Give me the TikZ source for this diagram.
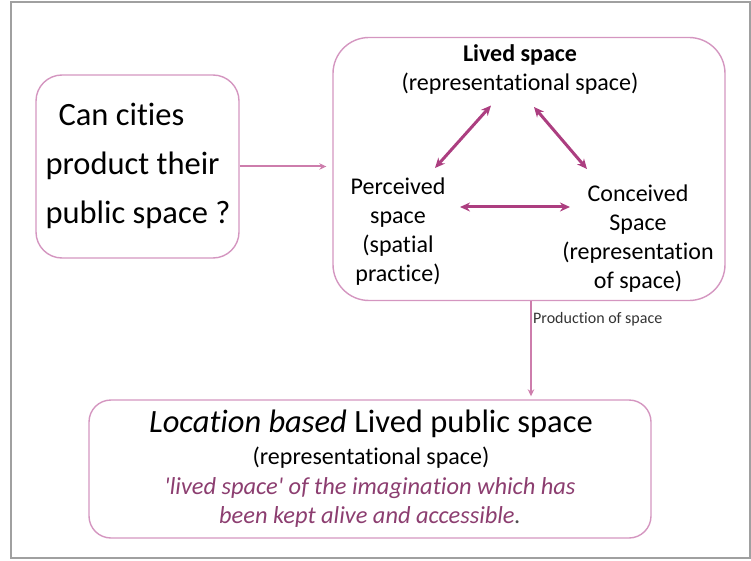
\documentclass[tikz,border=0pt]{standalone}
\usepackage{fontspec}
\setmainfont{Carlito}[Ligatures={TeXOff,CommonOff}]
\usetikzlibrary{arrows.meta}
\definecolor{boxline}{RGB}{212,150,192}
\definecolor{thinarrow}{RGB}{205,125,172}
\definecolor{triarrow}{RGB}{172,62,128}
\definecolor{quotetext}{RGB}{140,62,112}
\definecolor{framegray}{RGB}{160,160,160}
\begin{document}
\begin{tikzpicture}[x=1pt,y=-1pt,
  box/.style={draw=boxline, line width=1.4pt, rounded corners=#1, inner sep=0pt},
  box/.default=24pt,
  thin/.style={draw=thinarrow, line width=2pt, -{Stealth[length=7pt,width=6.5pt]}},
  tri/.style={draw=triarrow, line width=3pt, {Stealth[length=10pt,width=9pt]}-{Stealth[length=10pt,width=9pt]}},
  txt/.style={align=center, inner sep=0pt, font=\fontsize{24}{29}\selectfont}]
\useasboundingbox (0,0) rectangle (751,561);
% outer frame
\draw[framegray, line width=1.4pt] (11,2) rectangle (750,558);

% question box
\node[box=26pt, minimum width=203pt, minimum height=183pt] (q) at (137.5,166.5) {};
\node[align=left, inner sep=0pt, font=\fontsize{32.5}{49}\selectfont] (qt) at (138,166)
  {\hspace*{13pt}Can cities\\product their\\public space ?};

% triad box
\node[box=36pt, minimum width=392pt, minimum height=263pt] (triad) at (529,169) {};
\node[txt] (lived) at (520,69.5) {\textbf{Lived space}\\(representational space)};
\node[txt] (perc) at (398,231.5) {Perceived\\space\\(spatial\\practice)};
\node[txt] (conc) at (638,239) {Conceived\\Space\\(representation\\of space)};

% result box
\node[box=22pt, minimum width=562pt, minimum height=138pt] (res) at (370,469) {};
\node[inner sep=0pt, font=\fontsize{32.5}{38}\selectfont] (loc) at (371,424)
  {\textit{Location based} Lived public space};
\node[txt] (rep) at (371,458) {(representational space)};
\node[txt, font=\fontsize{24.4}{29}\selectfont\itshape, text=quotetext] (quote) at (370,502.5)
  {'lived space' of the imagination which has\\been kept alive and accessible\textcolor{black!70}{.}};

% arrow ends of the triad
\coordinate (lA) at (491,105.5);
\coordinate (pA) at (435,168);
\coordinate (lB) at (534,107);
\coordinate (cB) at (587,169);
\coordinate (pC) at (460,207);
\coordinate (cC) at (570,207);
\draw[tri] (lA) -- (pA);
\draw[tri] (lB) -- (cB);
\draw[tri] (pC) -- (cC);

% flow between boxes
\draw[thin, shorten >=6pt] (q.east) -- (q.east -| triad.west);
\coordinate (prodtop) at (triad.south -| 531,0);
\draw[thin, line width=2.4pt, shorten >=3pt] (prodtop) -- (prodtop |- res.north)
  node[pos=0.18, right=1pt, inner sep=0pt, text=black!80, font=\fontsize{16}{18}\selectfont] (prod) {Production of space};
\end{tikzpicture}
\end{document}
